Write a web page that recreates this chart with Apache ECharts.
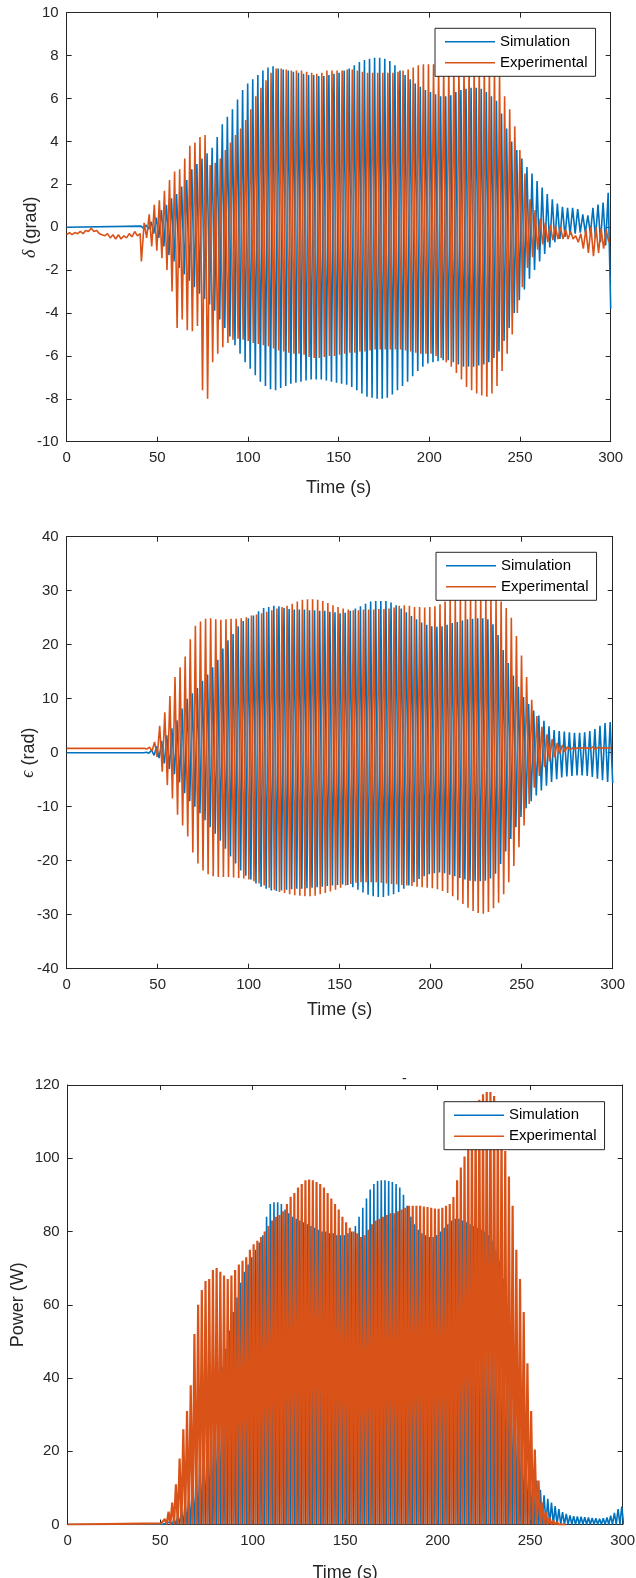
<!DOCTYPE html>
<html>
<head>
<meta charset="utf-8">
<title>Simulation vs Experimental</title>
<script src="https://cdn.jsdelivr.net/npm/echarts@6/dist/echarts.min.js"></script>
<style>
  html, body { margin: 0; padding: 0; background: #fff; }
  #chart { width: 636px; height: 1578px; }
</style>
</head>
<body>
<div id="chart"></div>
<script>
// one value per oscillation cycle: peak (max) and following trough (min)
var cyclePeriod = 2.8;
var simStart = 41.0;
var expStart = 42.7;

var simDeltaMax = [0.05,0.1,0.25,0.45,0.8,1.05,1.35,1.55,1.9,2.2,
  2.7,2.95,3.2,3.45,3.7,4.2,4.8,5.15,5.5,5.95,
  6.4,6.7,6.9,7.1,7.3,7.45,7.5,7.4,7.35,7.3,
  7.25,7.2,7.15,7.1,7.1,7.05,7.05,7.1,7.15,7.2,
  7.3,7.4,7.55,7.7,7.8,7.85,7.9,7.9,7.85,7.75,
  7.55,7.3,7.1,6.9,6.7,6.55,6.4,6.3,6.2,6.1,
  6.1,6.15,6.3,6.4,6.45,6.5,6.5,6.45,6.3,6.1,
  5.9,5.3,4.6,4.0,3.6,3.2,2.8,2.5,2.15,1.85,
  1.55,1.3,1.1,0.95,0.9,0.9,0.85,0.6,0.55,0.9,
  1.05,1.15,1.6];
var simDeltaMin = [-0.05,-0.1,-0.3,-0.5,-0.9,-1.3,-1.6,-1.9,-2.2,-2.5,
  -2.8,-3.1,-3.35,-3.6,-3.9,-4.3,-4.7,-5.1,-5.5,-5.9,
  -6.3,-6.6,-6.9,-7.2,-7.4,-7.55,-7.6,-7.5,-7.4,-7.3,
  -7.25,-7.2,-7.15,-7.1,-7.1,-7.1,-7.15,-7.2,-7.25,-7.3,
  -7.35,-7.45,-7.6,-7.75,-7.9,-7.95,-8.0,-8.0,-7.95,-7.8,
  -7.6,-7.4,-7.2,-6.95,-6.7,-6.5,-6.35,-6.3,-6.25,-6.2,
  -6.2,-6.3,-6.4,-6.5,-6.5,-6.5,-6.45,-6.4,-6.3,-6.1,
  -5.8,-5.3,-4.7,-4.0,-3.4,-2.9,-2.4,-2.0,-1.6,-1.25,
  -0.95,-0.7,-0.55,-0.45,-0.35,-0.3,-0.25,-0.25,-0.3,-0.5,
  -0.7,-0.85,-3.8];

var expDeltaPreT = [0,1.5,3,4.5,6,7.5,9,10.5,12,13.5,15,16.5,18,19.5,21,22.5,24,25.5,27,28.5,30,31.5,33,34.5,36,37.5,39,40.5,41.2];
var expDeltaPreV = [-0.35,-0.25,-0.35,-0.25,-0.3,-0.2,-0.3,-0.15,-0.2,-0.05,-0.2,-0.15,-0.3,-0.35,-0.4,-0.3,-0.5,-0.35,-0.55,-0.35,-0.55,-0.4,-0.5,-0.3,-0.45,-0.2,-0.4,-0.3,-1.6];
var expDeltaMax = [0.2,0.6,1.05,1.25,1.7,2.2,2.6,2.7,3.2,3.8,
  3.95,4.2,4.3,2.9,3.0,3.2,3.6,3.95,4.3,4.6,
  5.0,5.5,6.1,6.5,6.85,7.2,7.4,7.4,7.35,7.3,
  7.3,7.3,7.25,7.2,7.15,7.2,7.3,7.3,7.3,7.3,
  7.35,7.35,7.3,7.25,7.2,7.2,7.2,7.2,7.2,7.2,
  7.25,7.3,7.35,7.45,7.55,7.6,7.6,7.6,7.6,7.6,
  7.6,7.6,7.6,7.6,7.6,7.6,7.6,7.6,7.55,7.5,
  7.3,6.1,5.5,4.7,3.6,2.5,1.3,0.8,0.4,0.2,
  0.1,0.05,0.0,-0.1,-0.2,-0.4,-0.3,-0.1,0.0,0.0,
  -0.05,-0.1];
var expDeltaMin = [-0.5,-0.9,-1.1,-1.45,-2.0,-3.0,-4.7,-4.3,-4.8,-4.85,
  -4.6,-7.6,-8.0,-6.3,-5.9,-5.6,-5.4,-5.25,-5.2,-5.25,
  -5.3,-5.4,-5.45,-5.5,-5.55,-5.65,-5.75,-5.8,-5.85,-5.9,
  -5.9,-5.95,-6.05,-6.1,-6.1,-6.05,-6.0,-6.0,-5.95,-5.9,
  -5.85,-5.85,-5.8,-5.8,-5.75,-5.7,-5.7,-5.7,-5.7,-5.7,
  -5.7,-5.75,-5.8,-5.85,-5.9,-5.9,-5.9,-6.0,-6.1,-6.3,
  -6.5,-6.8,-7.1,-7.45,-7.6,-7.75,-7.85,-7.9,-7.75,-7.4,
  -6.7,-5.9,-5.0,-4.0,-2.8,-1.9,-1.4,-1.05,-0.8,-0.7,
  -0.6,-0.55,-0.55,-0.55,-0.55,-0.7,-1.0,-1.2,-1.35,-1.2,
  -1.0,-0.7];

var simEpsMax = [0,0.1,0.5,1.2,2.2,3.2,4.5,6.0,8.2,10.0,
  11.0,12.0,13.3,14.5,15.8,17.2,19.3,20.8,22.0,23.4,
  24.4,24.9,25.4,26.2,26.8,27.0,27.2,27.1,26.8,26.6,
  26.5,26.5,26.5,26.4,26.4,26.3,26.3,26.1,26.0,25.8,
  25.9,26.3,26.7,27.1,27.6,28.0,28.1,28.1,28.1,27.8,
  27.3,26.7,26.0,25.3,24.7,24.1,23.7,23.4,23.3,23.4,
  23.7,24.0,24.2,24.5,24.7,24.8,24.9,24.9,24.7,23.8,
  21.8,19.0,16.6,14.3,12.2,10.3,9.0,7.8,6.9,5.9,
  4.9,4.2,4.0,3.9,3.8,3.7,3.7,3.8,4.0,4.4,
  5.0,5.5,5.7];
var simEpsMin = [0,-0.1,-0.5,-1.0,-2.0,-3.0,-4.0,-5.5,-7.5,-9.0,
  -10.0,-11.2,-12.5,-13.8,-15.0,-16.3,-17.8,-19.2,-20.5,-21.8,
  -22.8,-23.5,-24.2,-24.8,-25.2,-25.5,-25.6,-25.5,-25.4,-25.3,
  -25.2,-25.2,-25.1,-25.0,-24.9,-24.8,-24.7,-24.6,-24.5,-24.4,
  -24.5,-24.9,-25.4,-25.9,-26.3,-26.6,-26.7,-26.7,-26.5,-26.2,
  -25.8,-25.2,-24.6,-24.0,-23.4,-22.9,-22.5,-22.3,-22.2,-22.3,
  -22.6,-22.9,-23.2,-23.5,-23.7,-23.8,-23.8,-23.7,-23.3,-22.4,
  -20.6,-18.3,-16.0,-13.8,-11.9,-10.3,-9.0,-7.9,-7.0,-6.1,
  -5.4,-4.9,-4.6,-4.4,-4.3,-4.2,-4.2,-4.3,-4.5,-4.8,
  -5.1,-5.4,-5.6];

var expEpsLevel = 0.8;
var expEpsMax = [0.8,1.0,2.0,5.0,7.5,10.5,14.0,15.8,17.8,21.0,
  23.5,24.3,24.8,24.9,24.7,24.6,24.7,24.8,24.8,24.9,
  25.1,25.4,25.6,25.8,26.1,26.4,26.7,27.0,27.2,27.6,
  28.0,28.3,28.4,28.4,28.3,28.1,27.7,27.3,27.0,26.7,
  26.5,26.4,26.4,26.5,26.5,26.5,26.6,26.6,26.7,26.9,
  27.2,27.3,27.2,27.0,27.0,26.9,27.0,27.1,27.5,28.0,
  28.4,28.6,28.7,28.8,28.9,29.0,29.0,28.9,28.7,28.5,
  28.0,26.8,25.0,21.6,18.0,14.0,9.8,6.8,4.8,3.4,
  2.5,1.8,1.4,1.1,0.9,0.9,0.9,0.9,1.1,1.0,
  0.9,0.9];
var expEpsMin = [0.7,0.3,-0.8,-3.5,-6.0,-8.5,-11.5,-13.5,-15.5,-18.5,
  -20.5,-21.8,-22.5,-22.9,-23.0,-23.0,-23.0,-23.1,-23.2,-23.3,
  -23.5,-23.8,-24.2,-24.6,-25.0,-25.4,-25.8,-26.0,-26.2,-26.4,
  -26.5,-26.6,-26.6,-26.5,-26.2,-26.0,-25.7,-25.4,-25.0,-24.6,
  -24.3,-24.1,-24.0,-24.0,-24.0,-24.0,-24.1,-24.2,-24.3,-24.4,
  -24.5,-24.6,-24.7,-24.8,-24.9,-25.0,-25.1,-25.3,-25.6,-26.0,
  -26.6,-27.3,-28.0,-28.7,-29.3,-29.7,-29.8,-29.5,-28.8,-27.8,
  -26.2,-24.0,-21.0,-17.5,-13.5,-9.5,-6.5,-4.3,-2.7,-1.6,
  -0.8,-0.2,0.2,0.5,0.7,0.8,0.8,0.7,0.6,0.8,
  0.8,0.8];

// power: one peak per cycle, troughs go down to 0
var powerPeriod = 2.0;
var simPowerStart = 51.5;
var expPowerStart = 50.5;
var powerTrough = 0;
var simPower = [0.1,0.3,0.8,1.5,2.5,4,6,8.5,11.5,15,
  19,23,27,31,35,39,43,48,53,58,
  62,66,69,71,73,75,77,79,84,87.5,
  88,88,87.5,86,85,84,83.5,83,82.5,82,
  81.5,81,80.5,80,80,79.5,79.5,79,79,79,
  79.5,80,81.5,84,86.5,89,91.5,93,93.8,94,
  94,93.8,93.5,93,92,90,87,84,82,80.5,
  79.5,79,78.5,78.5,79,80,81,82,83,83.5,
  83.5,83,82.5,82,81.5,81,80.5,80,79,77.5,
  75,72,67,60,52,44,37,30,24,19,
  15,12,9.5,8,7,6,5,4.2,3.4,2.9,
  2.5,2.3,2.2,2.1,2.0,1.9,1.8,1.7,1.6,1.7,
  1.9,2.4,3.2,4.2,4.9];
var expPower = [0.3,1.5,3.5,6,11,18,26,31,38,52,
  60,64,66.5,67,69.5,70,69,68,67,68,
  69.5,71,72,73,75,76.5,77.5,78.5,80,81.5,
  83,84,84.5,85.5,87.5,89.5,90.5,92,93,94,
  94.2,94,93.5,93,92,90.5,89,87.5,86,84,
  82.5,81,80,79.5,78.5,79,80.5,82,83,83.5,
  84,84.5,85,85,85.5,86,86.5,87,87,87,
  87,86.8,86.7,86.5,86.3,86.2,86.5,87,87.5,89.4,
  94,97.5,100.5,104,109,113,116,117.5,118.1,118.1,
  117,114,108.5,102,95,87,75,67,58,44,
  31,20.5,12,6,3.5,1.8,1.0,0.6,0.4,0.3];

var simColor = '#0072BD';
var expColor = '#D95319';
var axisColor = '#262626';
var font = 'Liberation Sans, Arial, Helvetica, sans-serif';

// peaks at t0 + k*period, troughs half a period later
function oscPoints(t0, period, maxArr, minArr) {
  var pts = [];
  for (var k = 0; k < maxArr.length; k++) {
    var t = t0 + k * period;
    pts.push([t, maxArr[k]]);
    var low = (typeof minArr === 'number') ? minArr : minArr[k];
    pts.push([t + period / 2, low]);
  }
  return pts;
}

var simDelta = [[0, 0]].concat(oscPoints(simStart, cyclePeriod, simDeltaMax, simDeltaMin));
var expDelta = [];
for (var i = 0; i < expDeltaPreT.length; i++) {
  expDelta.push([expDeltaPreT[i], expDeltaPreV[i]]);
}
expDelta = expDelta.concat(oscPoints(expStart, cyclePeriod, expDeltaMax, expDeltaMin));

var simEps = [[0, 0]].concat(oscPoints(simStart, cyclePeriod, simEpsMax, simEpsMin));
var expEps = [[0, expEpsLevel]].concat(oscPoints(expStart, cyclePeriod, expEpsMax, expEpsMin));

var simPow = [[0, powerTrough]].concat(oscPoints(simPowerStart, powerPeriod, simPower, powerTrough));
var expPow = [[0, powerTrough]].concat(oscPoints(expPowerStart, powerPeriod, expPower, powerTrough));

// outerBoundsMode none: keep the boxes where they are even if names reach the edge
var grids = [
  { left: 66.7, top: 12.7, width: 544, height: 429, outerBoundsMode: 'none' },
  { left: 66.7, top: 536.7, width: 546, height: 432, outerBoundsMode: 'none' },
  { left: 67.7, top: 1085, width: 555, height: 439.5, outerBoundsMode: 'none' }
];

function timeAxis(idx, nameGap) {
  return {
    gridIndex: idx, type: 'value', position: 'bottom',
    min: 0, max: 300, interval: 50,
    name: 'Time (s)', nameLocation: 'middle', nameGap: nameGap,
    nameMoveOverlap: false,
    nameTextStyle: { fontSize: 18, color: axisColor, fontFamily: font },
    axisLine: { show: true, onZero: false, lineStyle: { color: axisColor, width: 1 } },
    axisTick: { show: true, inside: true, length: 5, lineStyle: { color: axisColor } },
    axisLabel: { fontSize: 15, color: axisColor, fontFamily: font, margin: 9 },
    splitLine: { show: false }
  };
}

function topAxis(idx) {
  return {
    gridIndex: idx, type: 'value', position: 'top',
    min: 0, max: 300, interval: 50,
    axisLine: { show: true, onZero: false, lineStyle: { color: axisColor, width: 1 } },
    axisTick: { show: true, inside: true, length: 5, lineStyle: { color: axisColor } },
    axisLabel: { show: false },
    splitLine: { show: false }
  };
}

function valueAxis(idx, min, max, interval, name, nameGap) {
  return {
    gridIndex: idx, type: 'value', position: 'left',
    min: min, max: max, interval: interval,
    name: name, nameLocation: 'middle', nameGap: nameGap,
    nameMoveOverlap: false,
    nameTextStyle: {
      fontSize: 18, color: axisColor, fontFamily: font,
      rich: { g: { fontSize: 18, fontStyle: 'italic', color: axisColor, fontFamily: 'Liberation Serif, DejaVu Serif, serif' } }
    },
    axisLine: { show: true, onZero: false, lineStyle: { color: axisColor, width: 1 } },
    axisTick: { show: true, inside: true, length: 5, lineStyle: { color: axisColor } },
    axisLabel: { fontSize: 15, color: axisColor, fontFamily: font, margin: 8 },
    splitLine: { show: false }
  };
}

function rightAxis(idx, min, max, interval) {
  return {
    gridIndex: idx, type: 'value', position: 'right',
    min: min, max: max, interval: interval,
    axisLine: { show: true, onZero: false, lineStyle: { color: axisColor, width: 1 } },
    axisTick: { show: true, inside: true, length: 5, lineStyle: { color: axisColor } },
    axisLabel: { show: false },
    splitLine: { show: false }
  };
}

function legendAt(left, top) {
  return {
    left: left, top: top, orient: 'vertical',
    data: ['Simulation', 'Experimental'],
    icon: 'rect', itemWidth: 50, itemHeight: 1.5, itemGap: 6,
    padding: [6, 8, 6, 10],
    borderColor: axisColor, borderWidth: 1, borderRadius: 0,
    backgroundColor: '#fff',
    selectedMode: false,
    textStyle: { fontSize: 15, color: '#000', fontFamily: font }
  };
}

function lineSeries(idx, name, color, data, width) {
  return {
    type: 'line', name: name,
    xAxisIndex: idx, yAxisIndex: idx,
    data: data,
    symbol: 'none', showSymbol: false,
    lineStyle: { color: color, width: width },
    itemStyle: { color: color },
    clip: true,
    animation: false
  };
}

var chart = echarts.init(document.getElementById('chart'), null, { renderer: 'canvas' });

var option = {
  backgroundColor: '#fff',
  animation: false,
  title: {
    text: '-', left: 397, top: 1067,
    textStyle: { fontSize: 14, fontWeight: 'normal', color: axisColor, fontFamily: font }
  },
  grid: grids,
  legend: [legendAt(435, 28.3), legendAt(436, 552.3), legendAt(444, 1101.7)],
  xAxis: [timeAxis(0, 37), timeAxis(1, 32), timeAxis(2, 40), topAxis(0), topAxis(1), topAxis(2)],
  yAxis: [
    valueAxis(0, -10, 10, 2, '{g|δ} (grad)', 27),
    valueAxis(1, -40, 40, 10, '{g|ϵ} (rad)', 29),
    valueAxis(2, 0, 120, 20, 'Power (W)', 41),
    rightAxis(0, -10, 10, 2),
    rightAxis(1, -40, 40, 10),
    rightAxis(2, 0, 120, 20)
  ],
  series: [
    lineSeries(0, 'Simulation', simColor, simDelta, 1.6),
    lineSeries(0, 'Experimental', expColor, expDelta, 1.6),
    lineSeries(1, 'Simulation', simColor, simEps, 1.6),
    lineSeries(1, 'Experimental', expColor, expEps, 1.6),
    lineSeries(2, 'Simulation', simColor, simPow, 1.6),
    lineSeries(2, 'Experimental', expColor, expPow, 2.2)
  ]
};

chart.setOption(option);
</script>
</body>
</html>
